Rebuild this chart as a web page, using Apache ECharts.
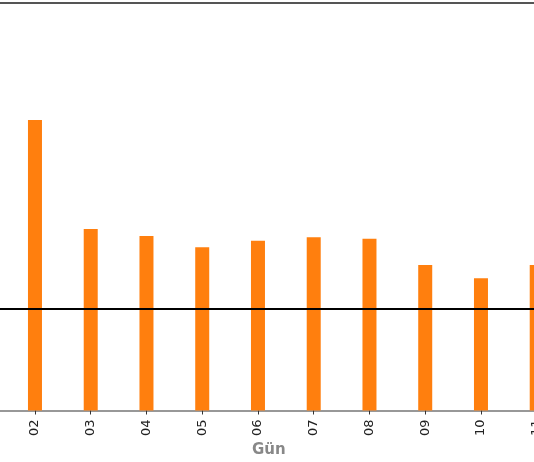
<!DOCTYPE html>
<html>
<head>
<meta charset="utf-8">
<script src="https://cdn.jsdelivr.net/npm/echarts@6/dist/echarts.min.js"></script>
<style>
html,body{margin:0;padding:0;background:#fff;overflow:hidden;width:534px;height:462px;}
#chart{position:absolute;left:-70px;top:0;width:660px;height:462px;}
</style>
</head>
<body>
<div id="chart"></div>
<script>
// '01' lies outside the visible crop (left of the picture); its bar is not visible
const categories = ['01','02','03','04','05','06','07','08','09','10','11'];
const values = [null, 28.48, 17.79, 17.11, 16.0, 16.65, 16.98, 16.84, 14.26, 12.96, 14.26];
const referenceLine = 9.95;
const xAxisTitle = 'Gün';

const chart = echarts.init(document.getElementById('chart'), null, {renderer:'canvas'});
chart.setOption({
  animation: false,
  backgroundColor: '#ffffff',
  grid: {left: 21.35, width: 613.25, top: 2.5, height: 408, containLabel: false},
  xAxis: [{
    type: 'category',
    data: categories,
    position: 'bottom',
    axisLine: {show: true, lineStyle: {color: '#777', width: 1.5}},
    axisTick: {show: true, alignWithLabel: true, length: 4, lineStyle: {color: '#333', width: 1}},
    axisLabel: {rotate: 90, margin: 9, fontSize: 13, color: '#222', fontFamily: 'DejaVu Sans', interval: 0},
    splitLine: {show: false}
  }, {
    type: 'category',
    data: categories,
    position: 'top',
    axisLine: {show: true, lineStyle: {color: '#555', width: 2}},
    axisTick: {show: false},
    axisLabel: {show: false}
  }],
  yAxis: {
    type: 'value', min: 0, max: 40, show: false,
    splitLine: {show: false}
  },
  series: [{
    type: 'bar',
    data: values,
    barWidth: 14,
    itemStyle: {color: '#ff7f0e'},
    markLine: {
      silent: true,
      symbol: ['none','none'],
      label: {show: false},
      lineStyle: {color: '#000', width: 2, type: 'solid'},
      data: [{yAxis: referenceLine}]
    }
  }],
  graphic: [{
    type: 'text',
    left: 70 + 268 - 16,
    top: 443,
    style: {text: xAxisTitle, fontSize: 15, fontWeight: 'bold', fill: '#888', fontFamily: 'DejaVu Sans'}
  }]
});
</script>
</body>
</html>
